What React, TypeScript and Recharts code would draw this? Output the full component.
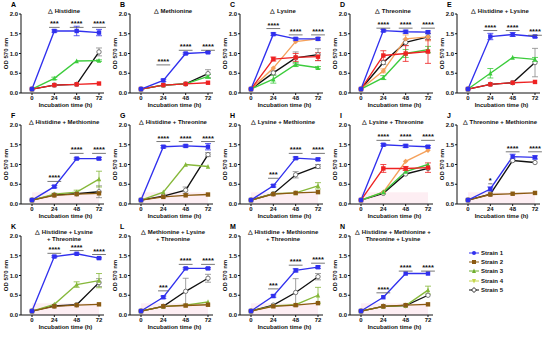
import { LineChart, Line, XAxis, YAxis, ErrorBar, LabelList, ReferenceArea } from 'recharts'

const times = [0, 24, 48, 72]
const yTicks = [0, 0.5, 1, 1.5, 2]
const strains = ['Strain 1', 'Strain 2', 'Strain 3', 'Strain 4', 'Strain 5']

const brightColors = ['#3030ee', '#ee2222', '#3ccc3c', '#f5a05a', '#111111']
const mutedColors = ['#3030ee', '#8b5a12', '#86b83a', '#c4d64a', '#111111']
const legendColors = ['#3030ee', '#8b5a12', '#6fae2e', '#c4d64a', '#111111']
const shapes = ['square', 'square', 'triangle', 'diamond', 'circle']
const legendShapes = ['dot', 'square', 'triangle', 'down', 'open']

type Series = (number | null)[] | null

// A  Histidine
const odA: Series[] = [[0.1, 1.57, 1.57, 1.53], [0.1, 0.2, 0.22, 0.24], [0.1, 0.37, 0.81, 0.82], null, [0.1, 0.2, 0.22, 1.04]]
const errA: Series[] = [[0, 0.03, 0.12, 0.08], null, [0, 0.03, 0, 0.02], null, [0, 0, 0, 0.1]]
const sigA = ['', '***', '****', '****']
const sigYA = [null, 1.75, 1.75, 1.75]

// B  Methionine
const odB: Series[] = [[0.1, 0.32, 1.0, 1.03], [0.1, 0.2, 0.23, 0.26], [0.1, 0.2, 0.23, 0.42], null, [0.1, 0.2, 0.23, 0.49]]
const errB: Series[] = [[0, 0.03, 0.02, 0.02], null, [0, 0, 0, 0.05], null, [0, 0, 0, 0.1]]
const sigB = ['', '****', '****', '****']
const sigYB = [null, 0.8, 1.17, 1.17]

// C  Lysine
const odC: Series[] = [[0.1, 1.49, 1.37, 1.37], [0.1, 0.86, 0.9, 0.92], [0.1, 0.35, 0.72, 0.64], [0.1, 0.63, 1.3, 1.37], [0.1, 0.51, 0.89, 0.97]]
const errC: Series[] = [[0, 0.03, 0.03, 0.03], [0, 0.05, 0.1, 0.1], [0, 0.1, 0.05, 0.03], null, [0, 0.05, 0.15, 0.15]]
const sigC = ['', '****', '****', '****']
const sigYC = [null, 1.72, 1.56, 1.56]

// D  Threonine
const odD: Series[] = [[0.1, 1.58, 1.55, 1.54], [0.1, 0.95, 1.0, 1.05], [0.1, 0.39, 1.0, 1.1], [0.1, 0.56, 1.37, 1.42], [0.1, 0.77, 1.28, 1.42]]
const errD: Series[] = [[0, 0.03, 0.04, 0.03], [0, 0.12, 0.2, 0.3], [0, 0.05, 0.1, 0.08], [0, 0.05, 0.1, 0.1], [0, 0.05, 0.08, 0.08]]
const sigD = ['', '****', '****', '****']
const sigYD = [null, 1.73, 1.73, 1.73]

// E  Histidine + Lysine
const odE: Series[] = [[0.1, 1.43, 1.48, 1.43], [0.1, 0.22, 0.26, 0.28], [0.1, 0.5, 0.9, 0.85], null, [0.1, 0.22, 0.26, 0.77]]
const errE: Series[] = [[0, 0.08, 0.05, 0.03], null, [0, 0.12, 0, 0.05], null, [0, 0, 0, 0.36]]
const sigE = ['', '****', '****', '****']
const sigYE = [null, 1.67, 1.67, 1.55]

// F  Histidine + Methionine
const odF: Series[] = [[0.1, 0.44, 1.15, 1.15], [0.1, 0.22, 0.25, 0.27], [0.1, 0.25, 0.3, 0.63], null, [0.1, 0.23, 0.26, 0.31]]
const errF: Series[] = [[0, 0.03, 0.02, 0.03], null, [0, 0.02, 0.05, 0.2], null, [0, 0, 0, 0.15]]
const sigF = ['', '****', '****', '****']
const sigYF = [null, 0.66, 1.37, 1.37]

// G  Histidine + Threonine
const odG: Series[] = [[0.1, 1.45, 1.47, 1.45], [0.1, 0.18, 0.22, 0.24], [0.1, 0.3, 1.0, 0.95], null, [0.1, 0.2, 0.35, 1.25]]
const errG: Series[] = [[0, 0.03, 0.03, 0.08], null, null, null, [0, 0, 0.08, 0.05]]
const sigG = ['', '****', '****', '****']
const sigYG = [null, 1.67, 1.67, 1.67]

// H  Lysine + Methionine
const odH: Series[] = [[0.1, 0.46, 1.16, 1.13], [0.1, 0.25, 0.28, 0.3], [0.1, 0.26, 0.28, 0.46], null, [0.1, 0.26, 0.74, 0.95]]
const errH: Series[] = [[0, 0.03, 0.03, 0.03], null, [0, 0, 0, 0.08], null, [0, 0, 0.08, 0.05]]
const sigH = ['', '***', '****', '****']
const sigYH = [null, 0.74, 1.37, 1.37]

// I  Lysine + Threonine
const odI: Series[] = [[0.1, 1.5, 1.47, 1.45], [0.1, 0.9, 0.9, 0.92], [0.1, 0.3, 0.82, 1.0], [0.1, 0.3, 1.08, 1.36], [0.1, 0.27, 0.76, 0.9]]
const errI: Series[] = [[0, 0.03, 0.04, 0.03], [0, 0.1, 0.05, 0.12], null, null, null]
const sigI = ['', '****', '****', '****']
const sigYI = [null, 1.7, 1.7, 1.7]

// J  Threonine + Methionine
const odJ: Series[] = [[0.1, 0.38, 1.2, 1.18], [0.1, 0.24, 0.26, 0.28], null, null, [0.1, 0.25, 1.1, 1.05]]
const errJ: Series[] = [[0, 0.05, 0.06, 0.04], null, null, null, null]
const sigJ = ['', '*', '****', '****']
const sigYJ = [null, 0.6, 1.41, 1.41]

// K  Histidine + Lysine + Threonine
const odK: Series[] = [[0.1, 1.48, 1.55, 1.44], [0.1, 0.22, 0.25, 0.27], [0.1, 0.27, 0.77, 0.87], null, [0.1, 0.23, 0.26, 0.82]]
const errK: Series[] = [[0, 0.02, 0.02, 0.02], null, [0, 0, 0.07, 0.18], null, [0, 0, 0, 0.1]]
const sigK = ['', '****', '****', '****']
const sigYK = [null, 1.65, 1.72, 1.62]

// L  Methionine + Lysine + Threonine
const odL: Series[] = [[0.1, 0.45, 1.18, 1.18], [0.1, 0.22, 0.24, 0.26], [0.1, 0.22, 0.25, 0.33], null, [0.1, 0.22, 0.6, 0.93]]
const errL: Series[] = [[0, 0.03, 0.02, 0.02], null, null, null, [0, 0, 0.33, 0.1]]
const sigL = ['', '***', '****', '****']
const sigYL = [null, 0.7, 1.37, 1.37]

// M  Histidine + Methionine + Threonine
const odM: Series[] = [[0.1, 0.48, 1.13, 1.21], [0.1, 0.22, 0.25, 0.3], [0.1, 0.23, 0.26, 0.5], null, [0.1, 0.25, 0.57, 0.97]]
const errM: Series[] = [[0, 0.03, 0.04, 0.03], null, [0, 0, 0, 0.2], null, [0, 0, 0.35, 0.08]]
const sigM = ['', '***', '****', '****']
const sigYM = [null, 0.75, 1.35, 1.4]

// N  Histidine + Methionine + Threonine + Lysine
const odN: Series[] = [[0.1, 0.45, 1.05, 1.05], [0.1, 0.22, 0.25, 0.27], [0.1, 0.22, 0.24, 0.63], null, [0.1, 0.22, 0.24, 0.5]]
const errN: Series[] = [null, null, [0, 0, 0, 0.1], null, null]
const sigN = ['', '****', '****', '****']
const sigYN = [null, 0.65, 1.2, 1.2]

const panels = [
  { letter: 'A', title: ['△ Histidine'], od: odA, err: errA, sig: sigA, sigY: sigYA, colors: brightColors, shade: false },
  { letter: 'B', title: ['△ Methionine'], od: odB, err: errB, sig: sigB, sigY: sigYB, colors: brightColors, shade: false },
  { letter: 'C', title: ['△ Lysine'], od: odC, err: errC, sig: sigC, sigY: sigYC, colors: brightColors, shade: false },
  { letter: 'D', title: ['△ Threonine'], od: odD, err: errD, sig: sigD, sigY: sigYD, colors: brightColors, shade: false },
  { letter: 'E', title: ['△ Histidine + Lysine'], od: odE, err: errE, sig: sigE, sigY: sigYE, colors: brightColors, shade: false },
  { letter: 'F', title: ['△ Histidine + Methionine'], od: odF, err: errF, sig: sigF, sigY: sigYF, colors: mutedColors, shade: true },
  { letter: 'G', title: ['△ Histidine + Threonine'], od: odG, err: errG, sig: sigG, sigY: sigYG, colors: mutedColors, shade: true },
  { letter: 'H', title: ['△ Lysine + Methionine'], od: odH, err: errH, sig: sigH, sigY: sigYH, colors: mutedColors, shade: true },
  { letter: 'I', title: ['△ Lysine + Threonine'], od: odI, err: errI, sig: sigI, sigY: sigYI, colors: brightColors, shade: true },
  { letter: 'J', title: ['△ Threonine + Methionine'], od: odJ, err: errJ, sig: sigJ, sigY: sigYJ, colors: mutedColors, shade: true },
  { letter: 'K', title: ['△ Histidine + Lysine', '+ Threonine'], od: odK, err: errK, sig: sigK, sigY: sigYK, colors: mutedColors, shade: true },
  { letter: 'L', title: ['△ Methionine + Lysine', '+ Threonine'], od: odL, err: errL, sig: sigL, sigY: sigYL, colors: mutedColors, shade: true },
  { letter: 'M', title: ['△ Histidine + Methionine', '+ Threonine'], od: odM, err: errM, sig: sigM, sigY: sigYM, colors: mutedColors, shade: true },
  { letter: 'N', title: ['△ Histidine + Methionine +', 'Threonine + Lysine'], od: odN, err: errN, sig: sigN, sigY: sigYN, colors: mutedColors, shade: true },
]

const colX = [0, 109, 219, 329, 436]
const rowY = [0, 111, 222]
const W = 110
const H = 112
const FONT = '"Liberation Sans", Arial, sans-serif'

function Marker({ shape, cx, cy, color, r = 2.2 }: any) {
  if (shape === 'square') return <rect x={cx - r} y={cy - r} width={2 * r} height={2 * r} fill={color} />
  if (shape === 'dot') return <circle cx={cx} cy={cy} r={r} fill={color} />
  if (shape === 'triangle') return <polygon points={`${cx},${cy - r - 0.4} ${cx + r},${cy + r} ${cx - r},${cy + r}`} fill={color} />
  if (shape === 'down') return <polygon points={`${cx},${cy + r + 0.4} ${cx + r},${cy - r} ${cx - r},${cy - r}`} fill={color} />
  if (shape === 'diamond') return <polygon points={`${cx},${cy - r - 0.5} ${cx + r + 0.5},${cy} ${cx},${cy + r + 0.5} ${cx - r - 0.5},${cy}`} fill={color} />
  if (shape === 'open') return <polygon points={`${cx},${cy - r - 0.5} ${cx + r + 0.5},${cy} ${cx},${cy + r + 0.5} ${cx - r - 0.5},${cy}`} fill="#fff" stroke={color} strokeWidth={0.9} />
  return <circle cx={cx} cy={cy} r={r} fill="#fff" stroke="#666" strokeWidth={0.9} />
}

const makeDot = (shape: string, color: string) => (props: any) => {
  const { cx, cy, index } = props
  if (cx == null || cy == null || Number.isNaN(cy)) return <g key={`d${index}`} />
  return <g key={`d${index}`}><Marker shape={shape} cx={cx} cy={cy} color={color} /></g>
}

const StarLabel = (props: any) => {
  const { x, y, value } = props
  if (!value || y == null) return null
  const w = value.length * 3.2 + 1
  return (
    <g>
      <text x={x} y={y + 2.5} textAnchor="middle" fontSize={7.5} fontWeight="bold" fill="#111" fontFamily={FONT}>{value}</text>
      <line x1={x - w / 2} x2={x + w / 2} y1={y + 3.5} y2={y + 3.5} stroke="#555" strokeWidth={0.8} />
    </g>
  )
}

const YLabel = (props: any) => {
  const { viewBox } = props
  const cx = 6
  const cy = viewBox.y + viewBox.height / 2
  return (
    <text x={cx} y={cy} transform={`rotate(-90 ${cx} ${cy})`} textAnchor="middle" dominantBaseline="central" fontSize={6} fontWeight="bold" fill="#111" fontFamily={FONT}>OD 570 nm</text>
  )
}

const XLabel = (props: any) => {
  const { viewBox } = props
  return (
    <text x={viewBox.x + viewBox.width / 2 + 3} y={107} textAnchor="middle" fontSize={6} fontWeight="bold" fill="#111" fontFamily={FONT}>Incubation time (h)</text>
  )
}

function Panel({ p }: { p: (typeof panels)[number] }) {
  const data = times.map((t, i) => {
    const row: any = { t, sig: p.sigY[i], sigText: p.sig[i] }
    p.od.forEach((vals, k) => {
      if (vals) row['s' + k] = vals[i]
      const e = p.err[k]
      if (e && e[i]) row['e' + k] = e[i]
    })
    return row
  })
  const order = [4, 3, 2, 1, 0].filter((k) => p.od[k])
  const tickStyle = { fontSize: 6, fontWeight: 'bold', fill: '#111', fontFamily: FONT }
  return (
    <LineChart width={W} height={H} data={data} margin={{ top: 14, right: 6, left: 0, bottom: 0 }}>
      {p.shade && (
        <ReferenceArea x1={0} x2={72} y1={0} y2={0.3} fill="#f7c6d6" fillOpacity={0.3} stroke="none" />
      )}
      <XAxis
        dataKey="t"
        type="number"
        domain={[0, 72]}
        ticks={times}
        padding={{ left: 11, right: 5 }}
        height={19}
        tickSize={2}
        tickMargin={1}
        tick={tickStyle}
        stroke="#111"
        label={<XLabel />}
      />
      <YAxis
        domain={[0, 2]}
        ticks={yTicks}
        width={21}
        tickSize={2}
        tickMargin={1}
        tick={tickStyle}
        tickFormatter={(v: number) => v.toFixed(1)}
        stroke="#111"
        label={<YLabel />}
      />
      {order.map((k) => {
        const color = p.colors[k]
        const shape = k === 4 ? 'circle' : shapes[k]
        return (
          <Line
            key={k}
            dataKey={'s' + k}
            stroke={color}
            strokeWidth={1.35}
            dot={makeDot(shape, color)}
            activeDot={false}
            isAnimationActive={false}
          >
            {p.err[k] && (
              <ErrorBar dataKey={'e' + k} width={3} stroke={k === 4 ? '#888' : color} strokeWidth={0.8} direction="y" isAnimationActive={false} />
            )}
          </Line>
        )
      })}
      <Line dataKey="sig" stroke="none" dot={false} activeDot={false} isAnimationActive={false}>
        <LabelList dataKey="sigText" content={StarLabel} />
      </Line>
    </LineChart>
  )
}

function StrainLegend() {
  return (
    <div style={{ position: 'absolute', left: 468, top: 248 }}>
      {strains.map((s, i) => (
        <div key={s} style={{ display: 'flex', alignItems: 'center', height: 9.3 }}>
          <svg width={12} height={8} style={{ display: 'block' }}>
            <line x1={1} x2={11} y1={4} y2={4} stroke={legendColors[i]} strokeWidth={1} />
            <Marker shape={legendShapes[i]} cx={6} cy={4} color={legendColors[i]} r={2} />
          </svg>
          <span style={{ fontSize: 6, fontWeight: 'bold', color: '#111', marginLeft: 1, fontFamily: FONT }}>{s}</span>
        </div>
      ))}
    </div>
  )
}

export default function App() {
  return (
    <div style={{ position: 'absolute', left: 0, top: 0, width: 550, height: 338, background: '#fff', fontFamily: FONT }}>
      {panels.map((p, i) => {
        const left = colX[i % 5]
        const top = rowY[Math.floor(i / 5)]
        return (
          <div key={p.letter} style={{ position: 'absolute', left, top, width: W, height: H }}>
            <Panel p={p} />
            <div style={{ position: 'absolute', left: 11, top: 1, fontSize: 7, fontWeight: 'bold', lineHeight: '8px' }}>{p.letter}</div>
            <div
              style={{
                position: 'absolute',
                left: 14,
                width: 100,
                top: p.title.length > 1 ? 7 : 8,
                textAlign: 'center',
                fontSize: 6,
                fontWeight: 'bold',
                lineHeight: '6.5px',
                color: '#111',
                whiteSpace: 'nowrap',
              }}
            >
              {p.title.map((t) => <div key={t}>{t}</div>)}
            </div>
          </div>
        )
      })}
      <StrainLegend />
    </div>
  )
}
